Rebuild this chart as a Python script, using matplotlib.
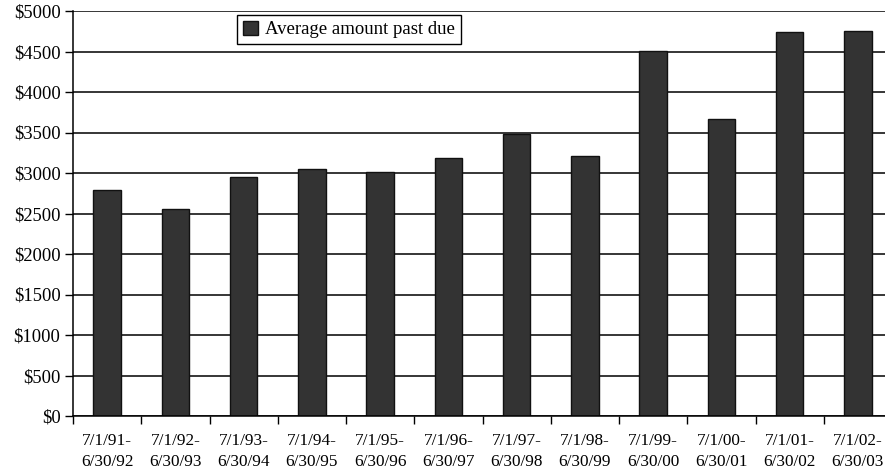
import matplotlib
matplotlib.use("Agg")
import matplotlib.pyplot as plt
from matplotlib.ticker import FixedLocator, NullFormatter, FuncFormatter

periods = ["7/1/91-\n6/30/92", "7/1/92-\n6/30/93", "7/1/93-\n6/30/94",
           "7/1/94-\n6/30/95", "7/1/95-\n6/30/96", "7/1/96-\n6/30/97",
           "7/1/97-\n6/30/98", "7/1/98-\n6/30/99", "7/1/99-\n6/30/00",
           "7/1/00-\n6/30/01", "7/1/01-\n6/30/02", "7/1/02-\n6/30/03"]
avg_past_due = [2790, 2560, 2947, 3053, 3016, 3185,
                3481, 3214, 4510, 3670, 4745, 4757]
y_ticks = list(range(0, 5001, 500))

plt.rcParams["font.family"] = ["Liberation Serif", "DejaVu Serif"]
plt.rcParams["font.size"] = 13.3

W, H = 885, 476
fig = plt.figure(figsize=(W / 100, H / 100), dpi=100)
ax = fig.add_axes([73 / W, (H - 416) / H, (892 - 73) / W, 405 / H])

x = list(range(len(periods)))
ax.bar(x, avg_past_due, width=0.4, color="#333333", edgecolor="#111111",
       linewidth=1.0, zorder=3, label="Average amount past due")

ax.set_xlim(-0.5, len(periods) - 0.5)
ax.set_ylim(0, 5000)

ax.yaxis.set_major_locator(FixedLocator(y_ticks))
ax.yaxis.set_major_formatter(FuncFormatter(lambda v, p: f"${int(v)}"))
ax.grid(axis="y", color="black", linewidth=1.1, zorder=0)

# category labels at centres, tick marks at category boundaries
ax.set_xticks(x)
ax.set_xticklabels(periods, linespacing=1.45, fontsize=12.4)
ax.tick_params(axis="x", which="major", length=0, pad=12)
ax.set_xticks([i - 0.5 for i in range(len(periods) + 1)], minor=True)
ax.xaxis.set_minor_formatter(NullFormatter())
ax.tick_params(axis="x", which="minor", length=6, width=1, color="black",
               direction="out")
ax.tick_params(axis="y", length=6, width=1, color="black", direction="out",
               pad=3)

for side in ("top", "right"):
    ax.spines[side].set_visible(False)
for side in ("left", "bottom"):
    ax.spines[side].set_color("black")
    ax.spines[side].set_linewidth(1.1)
    ax.spines[side].set_zorder(4)

leg = ax.legend(loc="upper left", bbox_to_anchor=(237 / W, (H - 15) / H),
                bbox_transform=fig.transFigure, fancybox=False, framealpha=1,
                edgecolor="black", handlelength=0.8, handleheight=0.8,
                handletextpad=0.4, borderpad=0.3, borderaxespad=0,
                prop={"size": 13.5})
leg.get_frame().set_linewidth(1.0)

fig.savefig("out.png", dpi=100)
